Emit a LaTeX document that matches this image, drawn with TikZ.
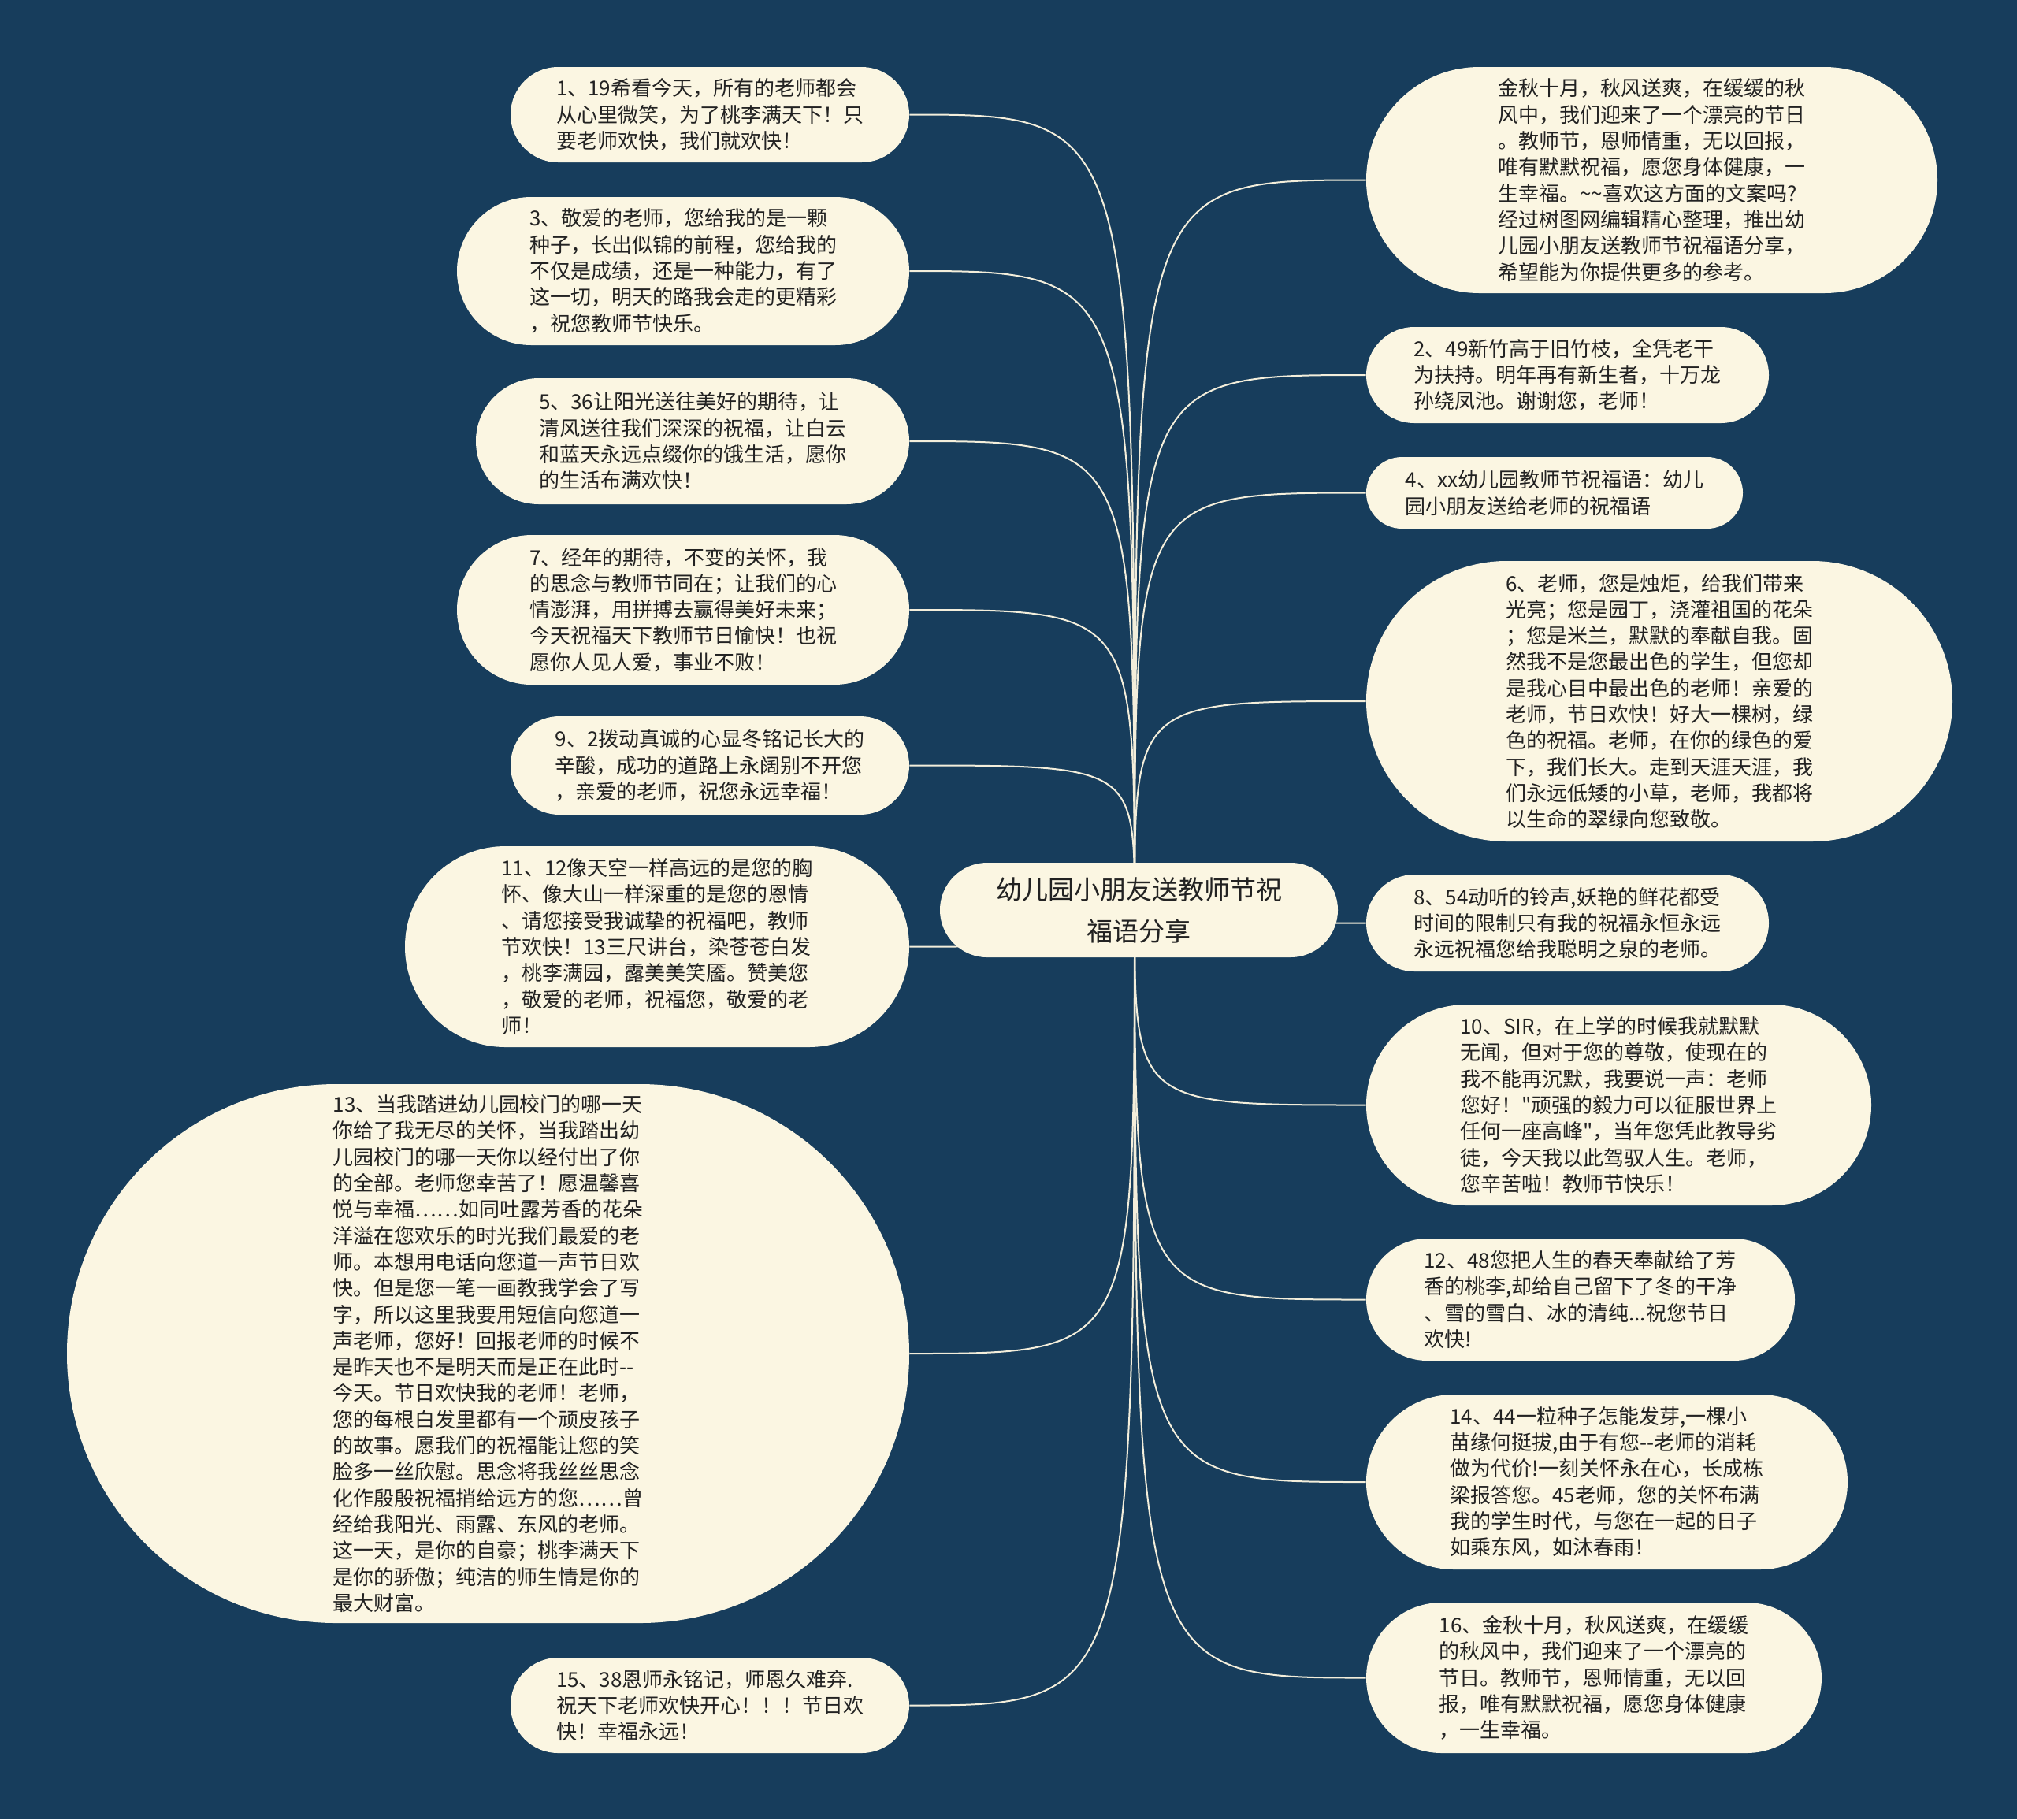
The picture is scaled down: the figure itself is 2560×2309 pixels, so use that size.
\documentclass[tikz,border=0pt]{standalone}
\usepackage{fontspec}
\setmainfont{Noto Sans CJK SC}
\newfontfamily\qfont{Noto Sans CJK SC}[Ligatures=TeXOff]
\usetikzlibrary{backgrounds}
\definecolor{bgc}{HTML}{173D5C}
\definecolor{cream}{HTML}{FBF6E2}
\definecolor{ink}{HTML}{222222}
\definecolor{linec}{HTML}{F3EEDB}
\newcommand\sq{{\qfont\char34}}
\begin{document}
\begin{tikzpicture}[x=0.5pt,y=-0.5pt,
  bub/.style={fill=cream, text=ink, align=left, inner sep=0pt, font=\fontsize{13}{16.65}\selectfont},
  hubnode/.style={fill=cream, text=ink, align=center, inner sep=0pt, font=\fontsize{16.5}{26.5}\selectfont},
  link/.style={draw=linec, line width=1pt}]
\useasboundingbox (0,0) rectangle (2560,2309);

% centre
\node[hubnode, minimum width=252.5pt, minimum height=60pt, rounded corners=30pt] (c) at (1445.5,1155) {幼儿园小朋友送教师节祝\\福语分享};
\coordinate (hub) at (1440,1155);

% left column
\node[bub, minimum width=253pt, minimum height=60.5pt, rounded corners=30.25pt] (n1) at (901,145.5)
{1、19希看今天，所有的老师都会\\从心里微笑，为了桃李满天下！只\\要老师欢快，我们就欢快！};
\node[bub, minimum width=287pt, minimum height=94pt, rounded corners=47pt] (n3) at (867,344)
{3、敬爱的老师，您给我的是一颗\\种子，长出似锦的前程，您给我的\\不仅是成绩，还是一种能力，有了\\这一切，明天的路我会走的更精彩\\，祝您教师节快乐。};
\node[bub, minimum width=275pt, minimum height=80pt, rounded corners=40pt] (n5) at (879,560)
{5、36让阳光送往美好的期待，让\\清风送往我们深深的祝福，让白云\\和蓝天永远点缀你的饿生活，愿你\\的生活布满欢快！};
\node[bub, minimum width=287pt, minimum height=95pt, rounded corners=47.5pt] (n7) at (867,774)
{7、经年的期待，不变的关怀，我\\的思念与教师节同在；让我们的心\\情澎湃，用拼搏去赢得美好未来；\\今天祝福天下教师节日愉快！也祝\\愿你人见人爱，事业不败！};
\node[bub, minimum width=253pt, minimum height=62.5pt, rounded corners=31.25pt] (n9) at (901,971.5)
{9、2拨动真诚的心显冬铭记长大的\\辛酸，成功的道路上永阔别不开您\\，亲爱的老师，祝您永远幸福！};
\node[bub, minimum width=320pt, minimum height=127.5pt, rounded corners=63.75pt] (n11) at (834,1201.5)
{11、12像天空一样高远的是您的胸\\怀、像大山一样深重的是您的恩情\\、请您接受我诚挚的祝福吧，教师\\节欢快！13三尺讲台，染苍苍白发\\，桃李满园，露美美笑靥。赞美您\\，敬爱的老师，祝福您，敬爱的老\\师！};
\node[bub, minimum width=534.5pt, minimum height=342pt, rounded corners=171pt] (n13) at (619.5,1718)
{13、当我踏进幼儿园校门的哪一天\\你给了我无尽的关怀，当我踏出幼\\儿园校门的哪一天你以经付出了你\\的全部。老师您幸苦了！愿温馨喜\\悦与幸福……如同吐露芳香的花朵\\洋溢在您欢乐的时光我们最爱的老\\师。本想用电话向您道一声节日欢\\快。但是您一笔一画教我学会了写\\字，所以这里我要用短信向您道一\\声老师，您好！回报老师的时候不\\是昨天也不是明天而是正在此时-{}-\\今天。节日欢快我的老师！老师，\\您的每根白发里都有一个顽皮孩子\\的故事。愿我们的祝福能让您的笑\\脸多一丝欣慰。思念将我丝丝思念\\化作殷殷祝福捎给远方的您……曾\\经给我阳光、雨露、东风的老师。\\这一天，是你的自豪；桃李满天下\\是你的骄傲；纯洁的师生情是你的\\最大财富。};
\node[bub, minimum width=253pt, minimum height=60.5pt, rounded corners=30.25pt] (n15) at (901,2164.5)
{15、38恩师永铭记，师恩久难弃.\\祝天下老师欢快开心！！！节日欢\\快！幸福永远！};

% right column
\node[bub, minimum width=362.5pt, minimum height=143.5pt, rounded corners=71.75pt] (r0) at (2096.5,228.5)
{金秋十月，秋风送爽，在缓缓的秋\\风中，我们迎来了一个漂亮的节日\\。教师节，恩师情重，无以回报，\\唯有默默祝福，愿您身体健康，一\\生幸福。\textasciitilde\textasciitilde 喜欢这方面的文案吗?\\经过树图网编辑精心整理，推出幼\\儿园小朋友送教师节祝福语分享，\\希望能为你提供更多的参考。};
\node[bub, minimum width=255.5pt, minimum height=61pt, rounded corners=30.5pt] (r2) at (1989.5,476)
{2、49新竹高于旧竹枝，全凭老干\\为扶持。明年再有新生者，十万龙\\孙绕凤池。谢谢您，老师！};
\node[bub, minimum width=239pt, minimum height=45.5pt, rounded corners=22.75pt] (r4) at (1973,625.5)
{4、xx幼儿园教师节祝福语：幼儿\\园小朋友送给老师的祝福语};
\node[bub, minimum width=372pt, minimum height=178pt, rounded corners=89pt] (r6) at (2106,890)
{6、老师，您是烛炬，给我们带来\\光亮；您是园丁，浇灌祖国的花朵\\；您是米兰，默默的奉献自我。固\\然我不是您最出色的学生，但您却\\是我心目中最出色的老师！亲爱的\\老师，节日欢快！好大一棵树，绿\\色的祝福。老师，在你的绿色的爱\\下，我们长大。走到天涯天涯，我\\们永远低矮的小草，老师，我都将\\以生命的翠绿向您致敬。};
\node[bub, minimum width=255.5pt, minimum height=61.5pt, rounded corners=30.75pt] (r8) at (1989.5,1171.5)
{8、54动听的铃声,妖艳的鲜花都受\\时间的限制只有我的祝福永恒永远\\永远祝福您给我聪明之泉的老师。};
\node[bub, minimum width=320.5pt, minimum height=127.5pt, rounded corners=63.75pt] (r10) at (2054.5,1402.5)
{10、SIR，在上学的时候我就默默\\无闻，但对于您的尊敬，使现在的\\我不能再沉默，我要说一声：老师\\您好！\sq 顽强的毅力可以征服世界上\\任何一座高峰\sq ，当年您凭此教导劣\\徒，今天我以此驾驭人生。老师，\\您辛苦啦！教师节快乐！};
\node[bub, minimum width=272pt, minimum height=77.5pt, rounded corners=38.75pt] (r12) at (2006,1649.5)
{12、48您把人生的春天奉献给了芳\\香的桃李,却给自己留下了冬的干净\\、雪的雪白、冰的清纯...祝您节日\\欢快!};
\node[bub, minimum width=305.5pt, minimum height=111pt, rounded corners=55.5pt] (r14) at (2039.5,1881)
{14、44一粒种子怎能发芽,一棵小\\苗缘何挺拔,由于有您-{}-老师的消耗\\做为代价!一刻关怀永在心，长成栋\\梁报答您。45老师，您的关怀布满\\我的学生时代，与您在一起的日子\\如乘东风，如沐春雨！};
\node[bub, minimum width=289pt, minimum height=95.5pt, rounded corners=47.75pt] (r16) at (2023,2129.5)
{16、金秋十月，秋风送爽，在缓缓\\的秋风中，我们迎来了一个漂亮的\\节日。教师节，恩师情重，无以回\\报，唯有默默祝福，愿您身体健康\\，一生幸福。};

\begin{pgfonlayer}{background}
\fill[bgc] (0,0) rectangle (2560,2309);
\foreach \n in {n1,n3,n5,n7,n9,n11,n13,n15}
  \draw[link] (hub) .. controls (hub |- \n.east) .. (\n.east);
\foreach \n in {r0,r2,r4,r6,r8,r10,r12,r14,r16}
  \draw[link] (hub) .. controls (hub |- \n.west) .. (\n.west);
\end{pgfonlayer}
\end{tikzpicture}
\end{document}
